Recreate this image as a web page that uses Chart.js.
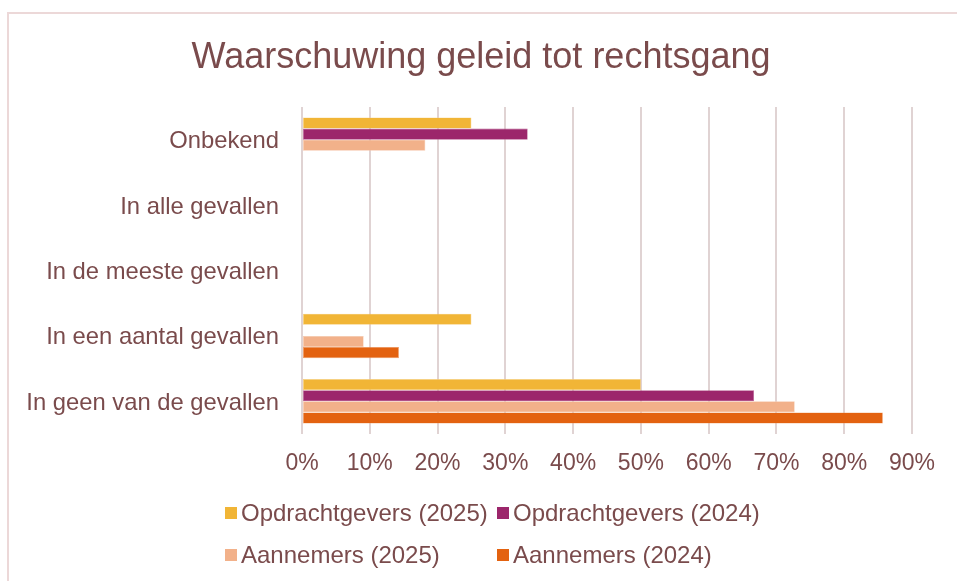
<!DOCTYPE html>
<html>
<head>
<meta charset="utf-8">
<script src="https://cdn.jsdelivr.net/npm/chart.js@4/dist/chart.umd.min.js"></script>
<style>
  html, body { margin: 0; padding: 0; background: #fff; }
  #wrap { position: relative; width: 957px; height: 581px; overflow: hidden; }
  #frame { position: absolute; left: 7px; top: 12px; width: 1000px; height: 1000px;
           border-left: 2px solid #ecd8d8; border-top: 2px solid #ecd8d8; }
  canvas { position: absolute; left: 0; top: 0; }
</style>
</head>
<body>
<div id="wrap">
  <div id="frame"></div>
  <canvas id="chart" width="957" height="581"></canvas>
</div>
<script>
var chartTitle = "Waarschuwing geleid tot rechtsgang";
var categories = [
  "Onbekend",
  "In alle gevallen",
  "In de meeste gevallen",
  "In een aantal gevallen",
  "In geen van de gevallen"
];
var opdrachtgevers2025 = [0.25, 0, 0, 0.25, 0.50];
var opdrachtgevers2024 = [0.333, 0, 0, 0, 0.667];
var aannemers2025 = [0.182, 0, 0, 0.091, 0.727];
var aannemers2024 = [0, 0, 0, 0.143, 0.857];
var xTicks = [0, 0.1, 0.2, 0.3, 0.4, 0.5, 0.6, 0.7, 0.8, 0.9];

var textColor = "#7a4b4c";
var gridColor = "#e0d3d3";
var fontFamily = "'Liberation Sans', Arial, sans-serif";

// title centred on the whole frame, not just the plot box
var frameTitle = {
  id: "frameTitle",
  afterDraw: function (chart) {
    var ctx = chart.ctx;
    ctx.save();
    ctx.font = "36px " + fontFamily;
    ctx.fillStyle = textColor;
    ctx.textAlign = "center";
    ctx.textBaseline = "middle";
    ctx.fillText(chartTitle, 481, 58);
    ctx.restore();
  }
};

// legend laid out as a 2x2 grid under the axis
var gridLegend = {
  id: "gridLegend",
  afterDraw: function (chart) {
    var ctx = chart.ctx;
    var cols = [225, 497];
    var rows = [513, 555];
    ctx.save();
    ctx.font = "24px " + fontFamily;
    ctx.textBaseline = "middle";
    ctx.textAlign = "left";
    chart.data.datasets.forEach(function (ds, i) {
      var x = cols[i % 2];
      var y = rows[Math.floor(i / 2)];
      ctx.fillStyle = ds.backgroundColor;
      ctx.fillRect(x, y - 6, 12, 12);
      ctx.fillStyle = textColor;
      ctx.fillText(ds.label, x + 16, y + 1);
    });
    ctx.restore();
  }
};

function makeSet(label, values, color, edge) {
  return {
    label: label,
    data: values,
    backgroundColor: color,
    borderColor: edge,
    borderWidth: 0.6,
    borderSkipped: false,
    barPercentage: 1,
    categoryPercentage: 0.68
  };
}

var ctx = document.getElementById("chart").getContext("2d");
var myChart = new Chart(ctx, {
  type: "bar",
  data: {
    labels: categories,
    datasets: [
      makeSet("Opdrachtgevers (2025)", opdrachtgevers2025, "#f1b536", "#f6cf7f"),
      makeSet("Opdrachtgevers (2024)", opdrachtgevers2024, "#9c266b", "#b95b91"),
      makeSet("Aannemers (2025)", aannemers2025, "#f2b18a", "#f6c8ac"),
      makeSet("Aannemers (2024)", aannemers2024, "#e36210", "#ee9a62")
    ]
  },
  options: {
    indexAxis: "y",
    responsive: false,
    animation: { duration: 0 },
    layout: { padding: { left: 0, right: 45, top: 107, bottom: 0 } },
    plugins: {
      legend: { display: false },
      tooltip: { enabled: false },
      title: { display: false }
    },
    scales: {
      x: {
        min: 0,
        max: 0.9,
        afterBuildTicks: function (scale) {
          scale.ticks = xTicks.map(function (v) { return { value: v }; });
        },
        afterFit: function (scale) { scale.height = 147; },
        grid: { color: gridColor, lineWidth: 2, drawTicks: false },
        border: { display: false },
        ticks: {
          color: textColor,
          padding: 16,
          font: { family: fontFamily, size: 23 },
          callback: function (v) { return Math.round(v * 100) + "%"; }
        }
      },
      y: {
        afterFit: function (scale) { scale.width = 302; },
        grid: { display: false, drawTicks: false },
        border: { display: false },
        ticks: {
          color: textColor,
          padding: 23,
          labelOffset: 2,
          font: { family: fontFamily, size: 23.8 }
        }
      }
    }
  },
  plugins: [frameTitle, gridLegend]
});
</script>
</body>
</html>
